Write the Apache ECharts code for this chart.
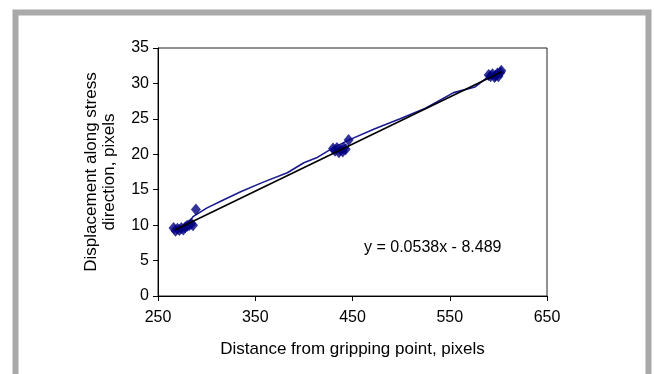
<!DOCTYPE html>
<html>
<head>
<meta charset="utf-8">
<script src="https://cdn.jsdelivr.net/npm/echarts@6/dist/echarts.min.js"></script>
<style>
html,body{margin:0;padding:0;background:#fff;}
#c{width:654px;height:374px;}
</style>
</head>
<body>
<div id="c"></div>
<script>
var xTicks = [250, 350, 450, 550, 650];
var yTicks = [0, 5, 10, 15, 20, 25, 30, 35];
var pointsX = [266, 268, 270, 272, 274, 276, 278, 280, 282, 284, 286, 289,
               430, 432, 434, 436, 438, 440, 441, 443, 446,
               590, 592, 594, 596, 597, 599, 600, 602, 603];
var pointsY = [9.6, 9.2, 9.5, 9.3, 9.6, 9.4, 9.7, 9.9, 10.0, 10.2, 10.0, 12.2,
               20.8, 20.5, 20.9, 20.3, 20.6, 20.4, 20.9, 20.7, 22.0,
               31.2, 31.0, 31.3, 30.9, 31.1, 31.4, 31.0, 31.5, 31.8];
var curveX = [268, 280, 286, 300, 315, 335, 357, 383, 400, 413, 430, 446, 473, 499, 525, 554, 576, 590, 603];
var curveY = [9.5, 9.9, 11.2, 12.4, 13.4, 14.7, 16.0, 17.4, 18.8, 19.5, 20.9, 22.0, 23.6, 25.0, 26.5, 28.7, 29.5, 31.0, 31.8];
var trendX = [267.5, 603.7];
var trendY = [9.31, 31.65];
var equationText = 'y = 0.0538x - 8.489';
var xName = 'Distance from gripping point, pixels';
var yName = 'Displacement along stress\ndirection, pixels';

function zip(a, b) { return a.map(function (v, i) { return [v, b[i]]; }); }

var chart = echarts.init(document.getElementById('c'), null, {renderer: 'canvas'});
var font = 'Liberation Sans, Arial, sans-serif';
chart.setOption({
  backgroundColor: '#fff',
  animation: false,
  grid: {left: 158, right: 107, top: 48, bottom: 78, show: true, borderColor: '#222', borderWidth: 1},
  xAxis: {
    type: 'value', min: xTicks[0], max: xTicks[xTicks.length - 1], interval: 100,
    name: xName, nameLocation: 'middle', nameGap: 45,
    nameTextStyle: {fontFamily: font, fontSize: 17, color: '#000'},
    axisLine: {lineStyle: {color: '#000', width: 1}},
    axisTick: {show: true, inside: false, length: 5, lineStyle: {color: '#000'}},
    axisLabel: {fontFamily: font, fontSize: 16, color: '#000', margin: 14},
    splitLine: {show: false}
  },
  yAxis: {
    type: 'value', min: yTicks[0], max: yTicks[yTicks.length - 1], interval: 5,
    name: yName, nameLocation: 'middle', nameGap: 40, nameRotate: 90,
    nameTextStyle: {fontFamily: font, fontSize: 17, color: '#000', lineHeight: 18},
    axisLine: {lineStyle: {color: '#000', width: 1}},
    axisTick: {show: true, inside: false, length: 5, lineStyle: {color: '#000'}},
    axisLabel: {fontFamily: font, fontSize: 16, color: '#000', margin: 9},
    splitLine: {show: false}
  },
  graphic: [
    {type: 'rect', shape: {x: 15.5, y: 12.5, width: 633, height: 420},
     style: {fill: 'none', stroke: '#a9a9a9', lineWidth: 6}, silent: true, z: 100},
    {type: 'text', left: 364, top: 240,
     style: {text: equationText, font: '16px ' + font, fill: '#000'}, z: 100}
  ],
  series: [
    {type: 'line', data: zip(curveX, curveY), showSymbol: false, symbol: 'none',
     lineStyle: {color: '#1a1a90', width: 1.6}, z: 2},
    {type: 'scatter', data: zip(pointsX, pointsY), symbol: 'diamond', symbolSize: [10, 12],
     itemStyle: {color: '#000080'}, z: 3},
    {type: 'line', data: zip(trendX, trendY), showSymbol: false, symbol: 'none',
     lineStyle: {color: '#000', width: 1.6}, z: 4}
  ]
});
</script>
</body>
</html>
